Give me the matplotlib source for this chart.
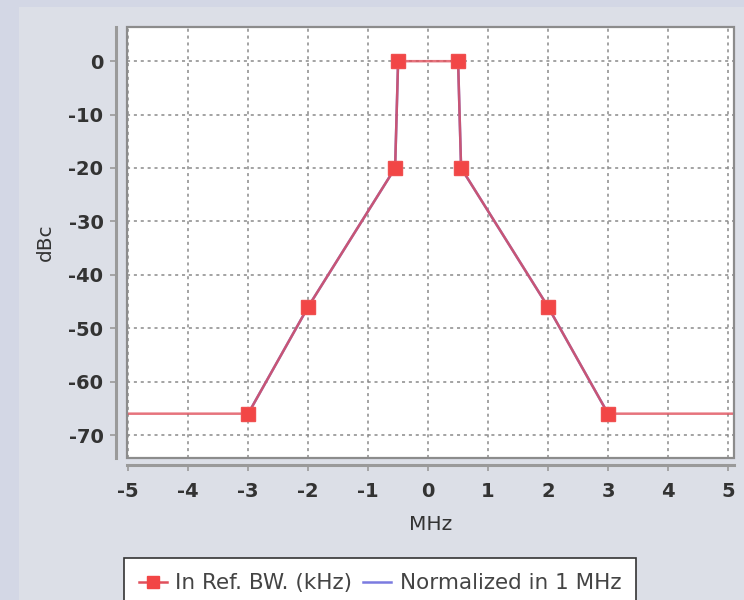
import numpy as np
import matplotlib
matplotlib.use("Agg")
import matplotlib.pyplot as plt
from matplotlib.lines import Line2D
from matplotlib.patches import Rectangle

# Spectrum emission mask (offset in MHz, level in dBc)
freq_mhz = [-5.1, -3.0, -2.0, -0.55, -0.5, 0.5, 0.55, 2.0, 3.0, 5.1]
level_dbc = [-66, -66, -46, -20, 0, 0, -20, -46, -66, -66]
marker_idx = [1, 2, 3, 4, 5, 6, 7, 8]

# Normalized (1 MHz) trace along the mask skirts
norm_freq_mhz = [-3.0, -2.0, -0.55, -0.5, np.nan, 0.5, 0.55, 2.0, 3.0]
norm_level_dbc = [-66, -46, -20, 0, np.nan, 0, -20, -46, -66]

x_ticks = [-5, -4, -3, -2, -1, 0, 1, 2, 3, 4, 5]
y_ticks = [0, -10, -20, -30, -40, -50, -60, -70]

series_names = ["In Ref. BW. (kHz)", "Normalized in 1 MHz"]

plt.rcParams["font.family"] = ["DejaVu Sans"]
plt.rcParams["axes.unicode_minus"] = False

bg = "#dcdfe7"
fig = plt.figure(figsize=(7.44, 6.0), dpi=100, facecolor="#d3d7e5")
fig.patches.append(Rectangle((19 / 744, 0), 1, 1 - 7 / 600, transform=fig.transFigure,
                             facecolor=bg, edgecolor="none", zorder=-10))

ax = fig.add_axes([127 / 744, 1 - 458 / 600, (734 - 127) / 744, (458 - 27) / 600])
ax.set_facecolor("white")

ax.plot(norm_freq_mhz, norm_level_dbc, color="#6a6ad8", lw=1.8, zorder=2)
ax.plot(freq_mhz, level_dbc, color="#e0505c", lw=1.8, alpha=0.8, zorder=3)
ax.plot([freq_mhz[i] for i in marker_idx], [level_dbc[i] for i in marker_idx],
        ls="none", marker="s", ms=9.5, mfc="#f24646", mec="#f05050", zorder=4)

ax.set_xlim(-5.02, 5.1)
ax.set_ylim(-74.3, 6.4)
ax.set_xticks(x_ticks)
ax.set_yticks(y_ticks)
ax.grid(True, color="#8a8a8a", ls=(0, (2, 2.5)), lw=1.1)

# plot-area frame
for s in ax.spines.values():
    s.set_visible(False)
ax.add_patch(Rectangle((0, 0), 1, 1, transform=ax.transAxes, fill=False,
                       edgecolor="#8c8c8c", lw=1.6, clip_on=False, zorder=5))

# offset axis lines
ax.spines["left"].set_visible(True)
ax.spines["bottom"].set_visible(True)
ax.spines["left"].set_position(("outward", 8))
ax.spines["bottom"].set_position(("outward", 5))
ax.spines["left"].set_color("#9a9a9a")
ax.spines["bottom"].set_color("#9a9a9a")
ax.spines["left"].set_linewidth(2.2)
ax.spines["bottom"].set_linewidth(2.2)

ax.tick_params(axis="both", colors="#9a9a9a", labelcolor="#333333", labelsize=14,
               length=4, width=1.2)
ax.tick_params(axis="x", pad=8)
ax.tick_params(axis="y", pad=5)
for lbl in ax.get_xticklabels() + ax.get_yticklabels():
    lbl.set_fontweight("bold")

ax.set_xlabel("MHz", fontsize=14.5, color="#333333", labelpad=10)
ax.set_ylabel("dBc", fontsize=14.5, color="#333333", labelpad=10)

handles = [
    Line2D([], [], color="#e0505c", lw=1.8, marker="s", ms=9, mfc="#f24646", mec="#f24646"),
    Line2D([], [], color="#7b7be0", lw=1.8),
]
leg = fig.legend(handles, series_names, loc="upper center", bbox_to_anchor=(380 / 744, 1 - 558 / 600),
                 ncol=2, frameon=True, fontsize=15.5, handlelength=1.3, handletextpad=0.4,
                 columnspacing=0.5, borderpad=0.7, borderaxespad=0, fancybox=False,
                 framealpha=1)
leg.get_frame().set_edgecolor("#333333")
leg.get_frame().set_linewidth(1.2)
for t in leg.get_texts():
    t.set_color("#444444")

fig.savefig("out.png", dpi=100, facecolor=fig.get_facecolor())
